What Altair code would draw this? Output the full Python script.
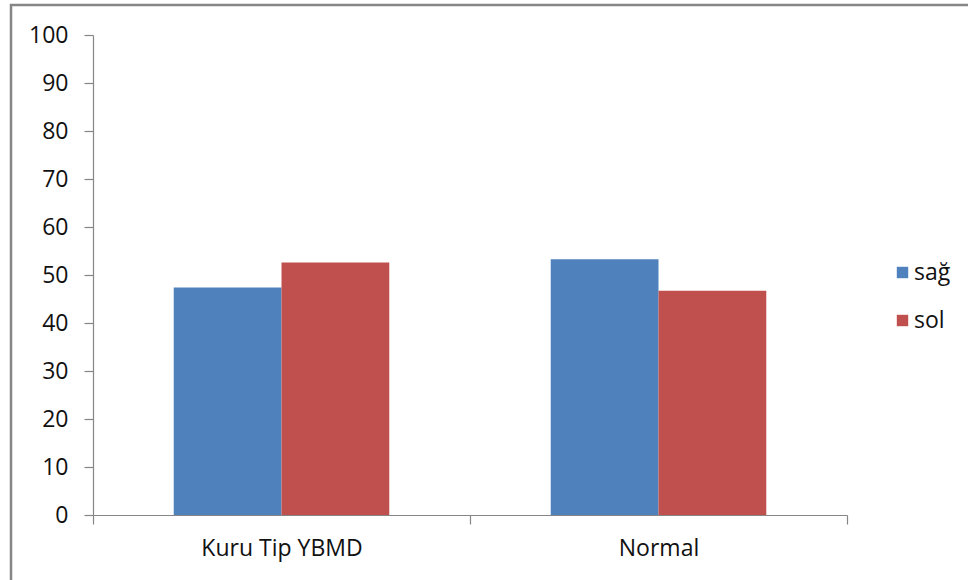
import altair as alt
import pandas as pd

# Share of cases per side within each group (%)
groups = ["Kuru Tip YBMD", "Normal"]
sides = ["sağ", "sol"]
sag_values = [47.4, 53.3]
sol_values = [52.6, 46.7]
y_ticks = [0, 10, 20, 30, 40, 50, 60, 70, 80, 90, 100]

colors = ["#4F81BD", "#C0504D"]
axis_gray = "#868686"
font = "Open Sans"

rows = []
for g, a, b in zip(groups, sag_values, sol_values):
    rows.append({"grup": g, "taraf": sides[0], "deger": a})
    rows.append({"grup": g, "taraf": sides[1], "deger": b})
df = pd.DataFrame(rows)

bars = alt.Chart(df).mark_bar().encode(
    x=alt.X(
        "grup:N",
        sort=groups,
        scale=alt.Scale(paddingInner=0, paddingOuter=0),
        axis=alt.Axis(
            title=None,
            labelAngle=0,
            tickBand="extent",
            tickSize=9,
            labelPadding=13,
            labelFontSize=23,
        ),
    ),
    xOffset=alt.XOffset(
        "taraf:N",
        sort=sides,
        scale=alt.Scale(paddingInner=0, paddingOuter=0.749),
    ),
    y=alt.Y(
        "deger:Q",
        scale=alt.Scale(domain=[0, 100], nice=False),
        axis=alt.Axis(
            title=None,
            values=y_ticks,
            tickSize=9,
            labelPadding=16,
            grid=False,
            labelFontSize=23,
        ),
    ),
    color=alt.Color(
        "taraf:N",
        sort=sides,
        scale=alt.Scale(domain=sides, range=colors),
        legend=alt.Legend(
            title=None,
            orient="none",
            legendX=798,
            legendY=226,
            symbolType="square",
            symbolSize=130,
            symbolStrokeWidth=0,
            labelFontSize=23,
            labelOffset=0,
            rowPadding=24,
            padding=0,
        ),
    ),
)

# Chart-area frame
frame = alt.Chart(alt.Data(values=[{}])).mark_rect(
    fill=None, stroke=axis_gray, strokeWidth=2.5
).encode(
    x=alt.value(-82),
    x2=alt.value(900),
    y=alt.value(-30),
    y2=alt.value(600),
)

chart = (
    alt.layer(bars, frame)
    .properties(
        width=754,
        height=480,
        autosize=alt.AutoSizeParams(type="none"),
        padding={"left": 93, "top": 35, "right": 121, "bottom": 65},
        background="white",
    )
    .configure_view(stroke=None)
    .configure_axis(
        domainColor=axis_gray,
        tickColor=axis_gray,
        domainWidth=1.2,
        tickWidth=1.2,
        labelColor="#111111",
        labelFont=font,
    )
    .configure_legend(labelFont=font, labelColor="#111111")
)

chart.save("out.html", embed_options={"renderer": "svg", "actions": False})
